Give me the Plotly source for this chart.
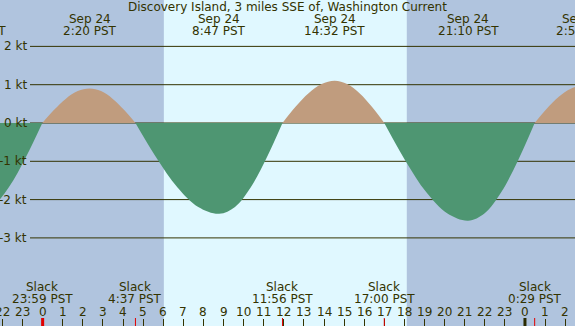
import plotly.graph_objects as go

# ---------------- data (hours from Sep 24 00:00 PST, speeds in knots) ----------------
lobe_times = [
    [-3.35, -2.517, -1.683, -0.850, -0.017],
    [-0.017, 0.571, 1.158, 1.746, 2.333, 2.904, 3.475, 4.046, 4.617],
    [4.617, 5.659, 6.700, 7.742, 8.783, 9.571, 10.358, 11.146, 11.933],
    [11.933, 12.583, 13.233, 13.883, 14.533, 15.150, 15.767, 16.383, 17.0],
    [17.0, 18.042, 19.083, 20.125, 21.167, 21.996, 22.825, 23.654, 24.483],
    [24.483, 25.082, 25.682, 26.281, 26.88, 27.5],
]
lobe_values = [
    [-2.37, -2.190, -1.676, -0.907, 0.0],
    [0.0, 0.344, 0.636, 0.832, 0.90, 0.832, 0.636, 0.344, 0.0],
    [0.0, -0.907, -1.676, -2.190, -2.37, -2.190, -1.676, -0.907, 0.0],
    [0.0, 0.421, 0.778, 1.016, 1.10, 1.016, 0.778, 0.421, 0.0],
    [0.0, -0.976, -1.803, -2.356, -2.55, -2.356, -1.803, -0.976, 0.0],
    [0.0, 0.371, 0.686, 0.896, 0.97, 0.90],
]

peak_times = [-3.35, 2.333, 8.783, 14.533, 21.167, 26.88]
peak_dates = ["Sep 23", "Sep 24", "Sep 24", "Sep 24", "Sep 24", "Sep 25"]
peak_labels = ["20:39 PST", "2:20 PST", "8:47 PST", "14:32 PST", "21:10 PST", "2:53 PST"]

slack_times = [-0.017, 4.617, 11.933, 17.0, 24.483]
slack_labels = ["23:59 PST", "4:37 PST", "11:56 PST", "17:00 PST", "0:29 PST"]

hour_ticks = list(range(-2, 27))
hour_labels = ["22", "23"] + [str(h) for h in range(24)] + ["0", "1", "2"]

day_marks = [0, 24]
day_mark_colors = ["#e00000", "#2b2b00"]

y_levels = [2, 1, 0, -1, -2, -3]
y_labels = ["2 kt", "1 kt", "0 kt", "-1 kt", "-2 kt", "-3 kt"]

sunrise, sunset = 6.03, 18.12
title = "Discovery Island, 3 miles SSE of, Washington Current"

# ---------------- style ----------------
W, H = 575, 326
X0, X1 = -2.123, 26.49
Y0, Y1 = -5.300, 3.211
NIGHT = "#b0c4de"
DAY = "#e0f8ff"
FLOOD = "#c09c7e"
EBB = "#4e9672"
INK = "#333300"
FONT = dict(family="DejaVu Sans", size=12, color=INK)


def py(px):
    return 1 - px / H


def xfrac(t):
    return (t - X0) / (X1 - X0)


fig = go.Figure()
for ts, vs in zip(lobe_times, lobe_values):
    col = FLOOD if max(vs) > 0 else EBB
    fig.add_trace(go.Scatter(x=ts, y=vs, mode="lines", fill="tozeroy",
                             fillcolor=col, line=dict(width=0, color=col, shape="spline", smoothing=1),
                             hoverinfo="skip", showlegend=False))

shapes = [dict(type="rect", xref="x", yref="paper", x0=sunrise, x1=sunset, y0=0, y1=1,
               fillcolor=DAY, line=dict(width=0), layer="below")]
for lv in y_levels:
    shapes.append(dict(type="line", xref="paper", yref="y", x0=30 / W, x1=1, y0=lv, y1=lv,
                       line=dict(color=INK, width=1), layer="below"))
for st in slack_times:
    shapes.append(dict(type="line", xref="x", yref="paper", x0=st, x1=st, y0=0, y1=8 / H,
                       line=dict(color="#e00000", width=1), layer="above"))
for dm, dc in zip(day_marks, day_mark_colors):
    shapes.append(dict(type="line", xref="x", yref="paper", x0=dm, x1=dm, y0=0, y1=8 / H,
                       line=dict(color=dc, width=3), layer="above"))

ann = [dict(text=title, xref="paper", yref="paper", x=0.5, y=py(7), showarrow=False,
            xanchor="center", yanchor="middle", font=FONT)]


def add_text(t, ypx, txt):
    if X0 <= t <= X1:
        ann.append(dict(text=txt, xref="x", x=t, yref="paper", y=py(ypx), showarrow=False,
                        xanchor="center", yanchor="middle", font=FONT))
    else:
        ann.append(dict(text=txt, xref="paper", x=xfrac(t), yref="paper", y=py(ypx), showarrow=False,
                        xanchor="center", yanchor="middle", font=FONT))


for t, d, lab in zip(peak_times, peak_dates, peak_labels):
    add_text(t, 19, d)
    add_text(t, 31, lab)
for t, lab in zip(slack_times, slack_labels):
    add_text(t, 287, "Slack")
    add_text(t, 299, lab)
for t, lab in zip(hour_ticks, hour_labels):
    add_text(t, 312, lab)
for lv, lab in zip(y_levels, y_labels):
    ann.append(dict(text=lab, xref="paper", x=29 / W, yref="y", y=lv, showarrow=False,
                    xanchor="right", yanchor="middle", font=FONT))

fig.update_layout(
    width=W, height=H, margin=dict(l=0, r=0, t=0, b=0, pad=0),
    paper_bgcolor=NIGHT, plot_bgcolor=NIGHT,
    xaxis=dict(range=[X0, X1], showgrid=False, zeroline=False, showline=False,
               tickvals=hour_ticks, ticks="inside", ticklen=7, tickcolor=INK, tickwidth=1,
               showticklabels=False, fixedrange=True),
    yaxis=dict(range=[Y0, Y1], showgrid=False, zeroline=False, showline=False,
               showticklabels=False, ticks="", fixedrange=True),
    shapes=shapes, annotations=ann, showlegend=False,
)
fig.write_html("out.html", config={"displayModeBar": False})
